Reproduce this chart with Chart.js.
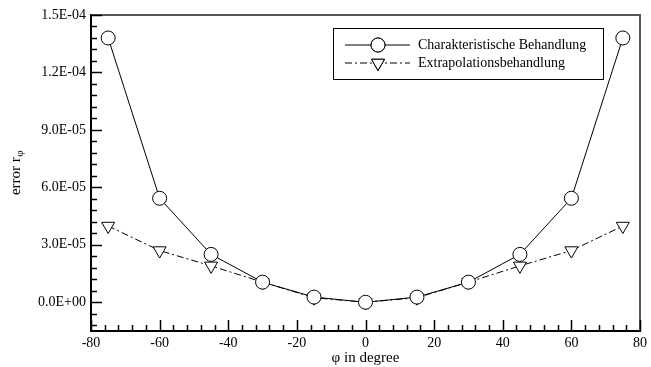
<!DOCTYPE html>
<html>
<head>
<meta charset="utf-8">
<script src="https://cdn.jsdelivr.net/npm/chart.js@4/dist/chart.umd.min.js"></script>
<style>
  html, body { margin: 0; padding: 0; background: #fff; }
  #wrap { width: 651px; height: 367px; }
</style>
</head>
<body>
<div id="wrap"><canvas id="chart"></canvas></div>
<script>
// angles in degree
const angles = [-75, -60, -45, -30, -15, 0, 15, 30, 45, 60, 75];
// error values
const charakteristisch = [1.38e-4, 5.43e-5, 2.5e-5, 1.05e-5, 2.7e-6, 0, 2.7e-6, 1.05e-5, 2.5e-5, 5.43e-5, 1.38e-4];
const extrapolation = [3.98e-5, 2.7e-5, 1.9e-5, 1.05e-5, 2.4e-6, 0, 2.4e-6, 1.05e-5, 1.9e-5, 2.7e-5, 3.98e-5];
const seriesLabels = ['Charakteristische Behandlung', 'Extrapolationsbehandlung'];
const xTicks = [-80, -60, -40, -20, 0, 20, 40, 60, 80];
const yTicks = [0, 3e-5, 6e-5, 9e-5, 1.2e-4, 1.5e-4];

const FONT = '"Liberation Serif", "Times New Roman", serif';

const fmtSci = (v) => {
    if (Math.abs(v) < 1e-12) return '0.0E+00';
    let exp = Math.floor(Math.log10(Math.abs(v)) + 1e-9);
    let man = v / Math.pow(10, exp);
    const sign = exp < 0 ? '-' : '+';
    return man.toFixed(1) + 'E' + sign + String(Math.abs(exp)).padStart(2, '0');
};

// inward ticks, frame, legend box and y title
const decorations = {
    id: 'decorations',
    afterDraw(chart) {
        const ctx = chart.ctx;
        const a = chart.chartArea;
        const xs = chart.scales.x, ys = chart.scales.y;
        ctx.save();
        // top and right frame
        ctx.strokeStyle = '#555';
        ctx.lineWidth = 2;
        ctx.beginPath();
        ctx.moveTo(a.left, a.top);
        ctx.lineTo(a.right, a.top);
        ctx.lineTo(a.right, a.bottom);
        ctx.stroke();

        ctx.strokeStyle = '#000';
        ctx.lineWidth = 1.5;
        ctx.beginPath();
        const xStep = (xTicks[1] - xTicks[0]) / 5;
        for (let v = xs.min; v <= xs.max + 1e-9; v += xStep) {
            const px = Math.round(xs.getPixelForValue(v)) + 0.5;
            const major = xTicks.some(t => Math.abs(t - v) < 1e-6);
            ctx.moveTo(px, a.bottom);
            ctx.lineTo(px, a.bottom - (major ? 11 : 6));
        }
        const yStep = (yTicks[1] - yTicks[0]) / 5;
        for (let i = Math.ceil(ys.min / yStep); i * yStep <= ys.max + 1e-12; i++) {
            const v = i * yStep;
            const py = Math.round(ys.getPixelForValue(v)) + 0.5;
            const major = i % 5 === 0;
            ctx.moveTo(a.left, py);
            ctx.lineTo(a.left + (major ? 11 : 6), py);
        }
        ctx.stroke();

        // legend
        const bx = 333, by = 28, bw = 270, bh = 51;
        ctx.fillStyle = '#fff';
        ctx.fillRect(bx, by, bw, bh);
        ctx.strokeStyle = '#000';
        ctx.lineWidth = 1;
        ctx.strokeRect(bx + 0.5, by + 0.5, bw, bh);
        chart.data.datasets.forEach((ds, i) => {
            const ly = by + 17 + i * 18;
            ctx.strokeStyle = '#000';
            ctx.lineWidth = 1;
            ctx.setLineDash(ds.borderDash || []);
            ctx.beginPath();
            ctx.moveTo(bx + 12, ly);
            ctx.lineTo(bx + 77, ly);
            ctx.stroke();
            ctx.setLineDash([]);
            ctx.fillStyle = '#fff';
            Chart.helpers.drawPoint(ctx, {
                pointStyle: ds.pointStyle, rotation: ds.pointRotation || 0,
                radius: ds.pointRadius, borderWidth: 1
            }, bx + 45, ly);
            ctx.fill();
            ctx.stroke();
            ctx.fillStyle = '#000';
            ctx.font = '14px ' + FONT;
            ctx.textBaseline = 'middle';
            ctx.textAlign = 'left';
            ctx.fillText(ds.label, bx + 85, ly);
        });

        // y axis title with subscript
        ctx.translate(16, (a.top + a.bottom) / 2);
        ctx.rotate(-Math.PI / 2);
        ctx.fillStyle = '#000';
        ctx.textBaseline = 'middle';
        ctx.font = '15px ' + FONT;
        const main = 'error r';
        const wMain = ctx.measureText(main).width;
        ctx.font = '11px ' + FONT;
        const wSub = ctx.measureText('φ').width;
        const x0 = -(wMain + wSub) / 2;
        ctx.font = '15px ' + FONT;
        ctx.textAlign = 'left';
        ctx.fillText(main, x0, 0);
        ctx.font = '11px ' + FONT;
        ctx.fillText('φ', x0 + wMain + 0.5, 4);
        ctx.restore();
    }
};

new Chart(document.getElementById('chart'), {
    type: 'line',
    data: {
        datasets: [
            {
                label: seriesLabels[0],
                data: angles.map((x, i) => ({ x, y: charakteristisch[i] })),
                borderColor: '#000',
                borderWidth: 1,
                pointStyle: 'circle',
                pointRadius: 7,
                pointBackgroundColor: '#fff',
                pointBorderColor: '#000',
                pointBorderWidth: 1,
                tension: 0
            },
            {
                label: seriesLabels[1],
                data: angles.map((x, i) => ({ x, y: extrapolation[i] })),
                borderColor: '#000',
                borderWidth: 1,
                borderDash: [7, 3, 2, 3],
                pointStyle: 'triangle',
                pointRotation: 180,
                pointRadius: 7.5,
                pointBackgroundColor: '#fff',
                pointBorderColor: '#000',
                pointBorderWidth: 1,
                tension: 0
            }
        ]
    },
    options: {
        responsive: true,
        maintainAspectRatio: false,
        animation: false,
        layout: { padding: { left: 0, top: 15, right: 8, bottom: 0 } },
        plugins: {
            legend: { display: false },
            tooltip: { enabled: false }
        },
        scales: {
            x: {
                type: 'linear',
                min: -80,
                max: 80,
                afterBuildTicks: (s) => { s.ticks = xTicks.map(v => ({ value: v })); },
                afterFit: (s) => { s.height = 36; },
                grid: { display: false, drawTicks: false },
                border: { display: true, color: '#000', width: 2 },
                ticks: {
                    padding: 4,
                    color: '#000',
                    font: { family: FONT, size: 14 },
                    maxRotation: 0,
                    autoSkip: false,
                    callback: (v) => String(v)
                },
                title: {
                    display: true,
                    text: 'φ in degree',
                    color: '#000',
                    font: { family: FONT, size: 15 },
                    padding: { top: 0, bottom: 0 }
                }
            },
            y: {
                type: 'linear',
                min: -1.5e-5,
                max: 1.5e-4,
                afterBuildTicks: (s) => { s.ticks = yTicks.map(v => ({ value: v })); },
                afterFit: (s) => { s.width = 91; },
                grid: { display: false, drawTicks: false },
                border: { display: true, color: '#000', width: 2 },
                ticks: {
                    padding: 5,
                    color: '#000',
                    font: { family: FONT, size: 14 },
                    autoSkip: false,
                    callback: (v) => fmtSci(v)
                }
            }
        }
    },
    plugins: [decorations]
});
</script>
</body>
</html>
